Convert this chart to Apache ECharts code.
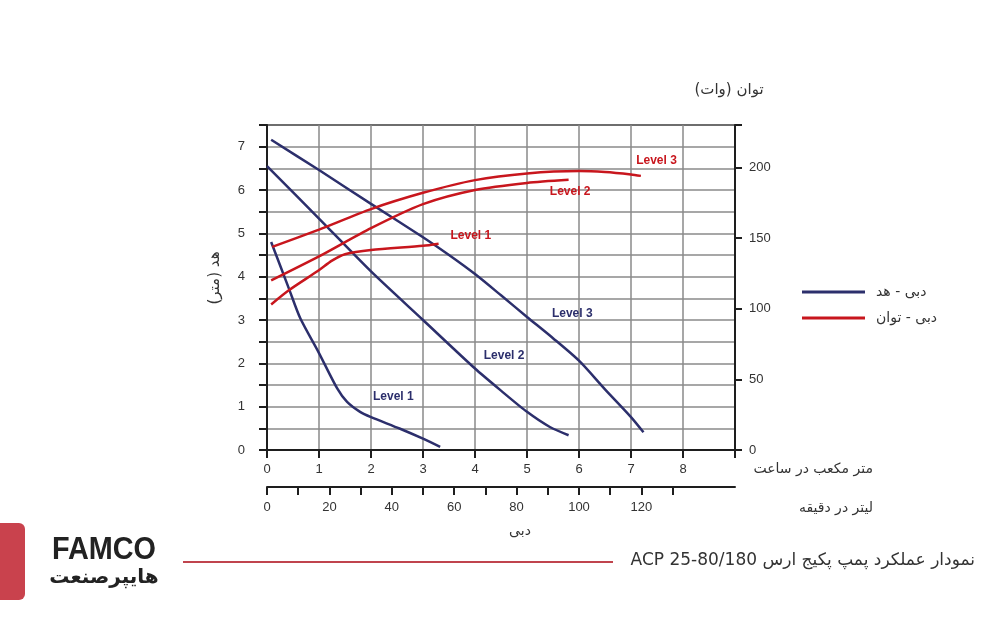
<!DOCTYPE html>
<html>
<head>
<meta charset="utf-8">
<script src="https://cdn.jsdelivr.net/npm/echarts@6/dist/echarts.min.js"></script>
<style>
html,body{margin:0;padding:0;background:#fff;}
#chart{width:1000px;height:620px;}
</style>
</head>
<body>
<div id="chart" dir="rtl"></div>
<script>
// ---- data (flow in m3/h, head in m, power in W) ----
const headL1 = [[0.08,4.8],[0.42,3.73],[0.64,3.04],[0.99,2.26],[1.35,1.42],[1.54,1.11],[1.79,0.88],[2.0,0.76],[2.56,0.49],[3.0,0.26],[3.33,0.07]];
const headL2 = [[0,6.55],[1,5.34],[2,4.12],[3,3.0],[4,1.88],[4.5,1.37],[5,0.88],[5.44,0.53],[5.8,0.34]];
const headL3 = [[0.08,7.16],[1,6.46],[2,5.68],[3,4.91],[3.5,4.5],[4,4.06],[4.5,3.57],[5,3.07],[5.5,2.58],[6,2.06],[6.5,1.4],[7,0.76],[7.24,0.41]];
const powerL1 = [[0.08,103],[0.42,113],[0.99,127],[1.25,134],[1.5,138.5],[2.0,141.5],[3.0,144.5],[3.3,146]];
const powerL2 = [[0.08,120],[1,137],[2,157],[3,174],[4,184],[5,189],[5.8,191.2]];
const powerL3 = [[0.1,143.7],[1,156],[2,170.5],[3,182],[4,191],[5,195.7],[6,197.4],[6.5,196.7],[7,195],[7.19,194]];

const levelNames = ['Level 1','Level 2','Level 3'];
const headLabelPos = [[2.43,1.22],[4.56,2.18],[5.87,3.15]];
const powerLabelPos = [[3.92,151.4],[5.83,183],[7.49,204.5]];

const flowTickLabels = [0,1,2,3,4,5,6,7,8];
const headTickLabels = [0,1,2,3,4,5,6,7];
const powerTickLabels = [0,50,100,150,200];
const powerTicks = [0,50,100,150,200,230];
const litreTicks = [0,10,20,30,40,50,60,70,80,90,100,110,120,130];
const litreTickLabels = [0,20,40,60,80,100,120];

const headName = 'دبی - هد';
const powerName = 'دبی - توان';

const BLUE = '#2c2f6c';
const RED = '#c8161d';
const GRID = '#8a8a8a';
const AX = '#1e1e1e';
const TXT = '#333';
const FONT = "'Liberation Sans', Arial, sans-serif";
const FA = "'DejaVu Sans', 'Noto Sans', sans-serif";

function levelMark(pos, name, color) {
  return {
    symbol: 'rect', symbolSize: [1,1], silent: true,
    itemStyle: {color: 'rgba(0,0,0,0)'},
    label: {show: true, position: 'inside', formatter: name, color: color,
            fontSize: 12, fontWeight: 'bold', fontFamily: FONT},
    data: [{coord: pos}]
  };
}
function line(name, data, color, yIdx, labelPos, lvl) {
  return {
    type: 'line', name: name, data: data, xAxisIndex: 0, yAxisIndex: yIdx,
    smooth: 0.25, showSymbol: false, symbol: 'none',
    lineStyle: {color: color, width: 2.5}, itemStyle: {color: color},
    markPoint: levelMark(labelPos, lvl, color), z: 5
  };
}

const chart = echarts.init(document.getElementById('chart'), null, {renderer: 'canvas'});
chart.setOption({
  animation: false,
  backgroundColor: '#fff',
  grid: {left: 267, right: 265, top: 125, bottom: 170, show: true,
         borderColor: AX, borderWidth: 2, containLabel: false},
  legend: {
    left: 797, top: 280, orient: 'vertical', itemGap: 12,
    itemWidth: 63, itemHeight: 3, icon: 'rect',
    textStyle: {color: TXT, fontSize: 14, fontFamily: FA, padding: [0,0,0,6]},
    data: [headName, powerName]
  },
  xAxis: [
    {type: 'value', min: 0, max: 9, interval: 1, position: 'bottom',
     axisLine: {show: true, onZero: false, lineStyle: {color: AX, width: 2}},
     axisTick: {show: true, length: 8, lineStyle: {color: AX, width: 2}},
     axisLabel: {customValues: flowTickLabels, color: TXT, fontSize: 13, fontFamily: FONT, margin: 13},
     splitLine: {show: true, lineStyle: {color: GRID, width: 1.5}}},
    {type: 'value', min: 0, max: 150, interval: 10, position: 'bottom', offset: 37,
     axisLine: {show: true, onZero: false, lineStyle: {color: AX, width: 2}},
     axisTick: {show: true, length: 8, customValues: litreTicks, lineStyle: {color: AX, width: 2}},
     axisLabel: {customValues: litreTickLabels, color: TXT, fontSize: 13, fontFamily: FONT, margin: 14},
     splitLine: {show: false}}
  ],
  yAxis: [
    {type: 'value', min: 0, max: 7.5, interval: 0.5, position: 'left',
     axisLine: {show: true, onZero: false, lineStyle: {color: AX, width: 2}},
     axisTick: {show: true, length: 8, lineStyle: {color: AX, width: 2}},
     axisLabel: {customValues: headTickLabels, color: TXT, fontSize: 13, fontFamily: FONT, margin: 22},
     splitLine: {show: true, lineStyle: {color: GRID, width: 1.5}}},
    {type: 'value', min: 0, max: 230, interval: 50, position: 'right',
     axisLine: {show: true, onZero: false, lineStyle: {color: AX, width: 2}},
     axisTick: {show: true, length: 7, customValues: powerTicks, lineStyle: {color: AX, width: 2}},
     axisLabel: {customValues: powerTickLabels, color: TXT, fontSize: 13, fontFamily: FONT, margin: 14},
     splitLine: {show: false}}
  ],
  series: [
    line(headName, headL1, BLUE, 0, headLabelPos[0], levelNames[0]),
    line(headName, headL2, BLUE, 0, headLabelPos[1], levelNames[1]),
    line(headName, headL3, BLUE, 0, headLabelPos[2], levelNames[2]),
    line(powerName, powerL1, RED, 1, powerLabelPos[0], levelNames[0]),
    line(powerName, powerL2, RED, 1, powerLabelPos[1], levelNames[1]),
    line(powerName, powerL3, RED, 1, powerLabelPos[2], levelNames[2])
  ],
  graphic: [
    {type: 'text', x: 729, y: 90, style: {text: 'توان (وات)', fill: TXT, font: '15px ' + FA, align: 'center', verticalAlign: 'middle'}},
    {type: 'text', x: 215, y: 278, rotation: Math.PI / 2, style: {text: 'هد (متر)', fill: TXT, font: '15px ' + FA, align: 'center', verticalAlign: 'middle'}},
    {type: 'text', x: 873, y: 469, style: {text: 'متر مکعب در ساعت', fill: TXT, font: '14px ' + FA, align: 'right', verticalAlign: 'middle'}},
    {type: 'text', x: 873, y: 508, style: {text: 'لیتر در دقیقه', fill: TXT, font: '14px ' + FA, align: 'right', verticalAlign: 'middle'}},
    {type: 'text', x: 520, y: 531, style: {text: 'دبی', fill: TXT, font: '14px ' + FA, align: 'center', verticalAlign: 'middle'}},
    {type: 'rect', shape: {x: -6, y: 523, width: 31, height: 77, r: 6}, style: {fill: '#c9424d'}},
    {type: 'text', x: 104, y: 550, scaleX: 0.9, style: {text: 'FAMCO', fill: '#222', font: "bold 32px 'Liberation Sans Narrow', 'Liberation Sans', sans-serif", align: 'center', verticalAlign: 'middle'}},
    {type: 'text', x: 104, y: 578, style: {text: 'هایپرصنعت', fill: '#222', font: 'bold 20px ' + FA, align: 'center', verticalAlign: 'middle'}},
    {type: 'line', shape: {x1: 183, y1: 562, x2: 613, y2: 562}, style: {stroke: '#c0444d', lineWidth: 2}},
    {type: 'text', x: 975, y: 561, style: {text: 'نمودار عملکرد پمپ پکیج ارس ACP 25-80/180', fill: TXT, font: '17px ' + FA, align: 'right', verticalAlign: 'middle'}}
  ]
});
</script>
</body>
</html>
